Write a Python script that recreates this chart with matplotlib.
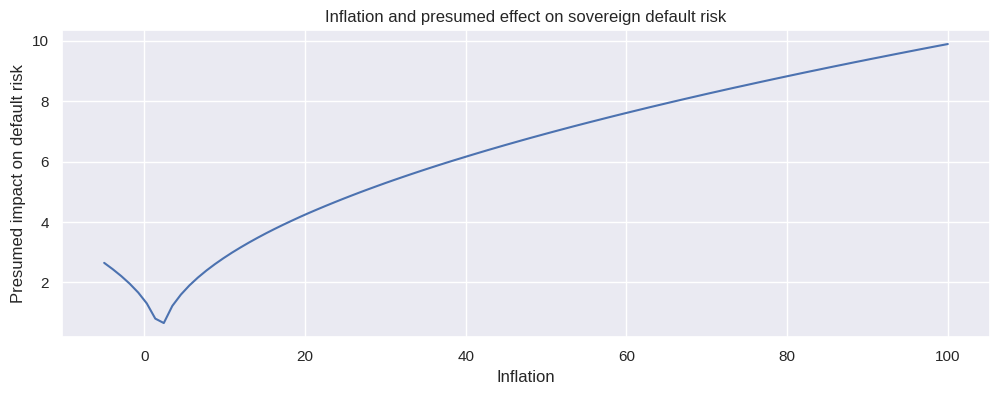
import matplotlib
matplotlib.use("Agg")
import matplotlib.pyplot as plt
import seaborn as sns

inflation = [-5.00, -3.94, -2.88, -1.82, -0.76, 0.30, 1.36, 2.42, 3.48, 4.55,
             5.61, 6.67, 7.73, 8.79, 9.85, 10.91, 11.97, 13.03, 14.09, 15.15,
             16.21, 17.27, 18.33, 19.39, 20.45, 21.52, 22.58, 23.64, 24.70, 25.76,
             26.82, 27.88, 28.94, 30.00, 31.06, 32.12, 33.18, 34.24, 35.30, 36.36,
             37.42, 38.48, 39.55, 40.61, 41.67, 42.73, 43.79, 44.85, 45.91, 46.97,
             48.03, 49.09, 50.15, 51.21, 52.27, 53.33, 54.39, 55.45, 56.52, 57.58,
             58.64, 59.70, 60.76, 61.82, 62.88, 63.94, 65.00, 66.06, 67.12, 68.18,
             69.24, 70.30, 71.36, 72.42, 73.48, 74.55, 75.61, 76.67, 77.73, 78.79,
             79.85, 80.91, 81.97, 83.03, 84.09, 85.15, 86.21, 87.27, 88.33, 89.39,
             90.45, 91.52, 92.58, 93.64, 94.70, 95.76, 96.82, 97.88, 98.94, 100.00]

impact = [2.646, 2.437, 2.209, 1.954, 1.661, 1.303, 0.798, 0.651, 1.219, 1.595,
          1.899, 2.160, 2.393, 2.605, 2.801, 2.985, 3.157, 3.321, 3.477, 3.627,
          3.770, 3.908, 4.041, 4.171, 4.296, 4.418, 4.536, 4.651, 4.764, 4.874,
          4.982, 5.087, 5.190, 5.292, 5.391, 5.488, 5.584, 5.678, 5.771, 5.862,
          5.952, 6.040, 6.127, 6.213, 6.298, 6.382, 6.464, 6.546, 6.626, 6.706,
          6.785, 6.862, 6.939, 7.015, 7.090, 7.165, 7.238, 7.311, 7.383, 7.455,
          7.526, 7.596, 7.665, 7.734, 7.803, 7.870, 7.937, 8.004, 8.070, 8.135,
          8.200, 8.265, 8.328, 8.392, 8.455, 8.517, 8.579, 8.641, 8.702, 8.763,
          8.823, 8.883, 8.943, 9.002, 9.060, 9.119, 9.177, 9.234, 9.292, 9.348,
          9.405, 9.461, 9.517, 9.573, 9.628, 9.683, 9.738, 9.792, 9.846, 9.899]

sns.set_theme(style="darkgrid")
plt.rcParams['font.family'] = ['Liberation Sans', 'DejaVu Sans']
fig, ax = plt.subplots(figsize=(10, 3.96), dpi=100)
ax.plot(inflation, impact)
ax.set_title("Inflation and presumed effect on sovereign default risk")
ax.set_xlabel("Inflation")
ax.set_ylabel("Presumed impact on default risk")
fig.subplots_adjust(left=0.062, right=0.99, top=0.924, bottom=0.149)
fig.savefig("out.png", dpi=100)
